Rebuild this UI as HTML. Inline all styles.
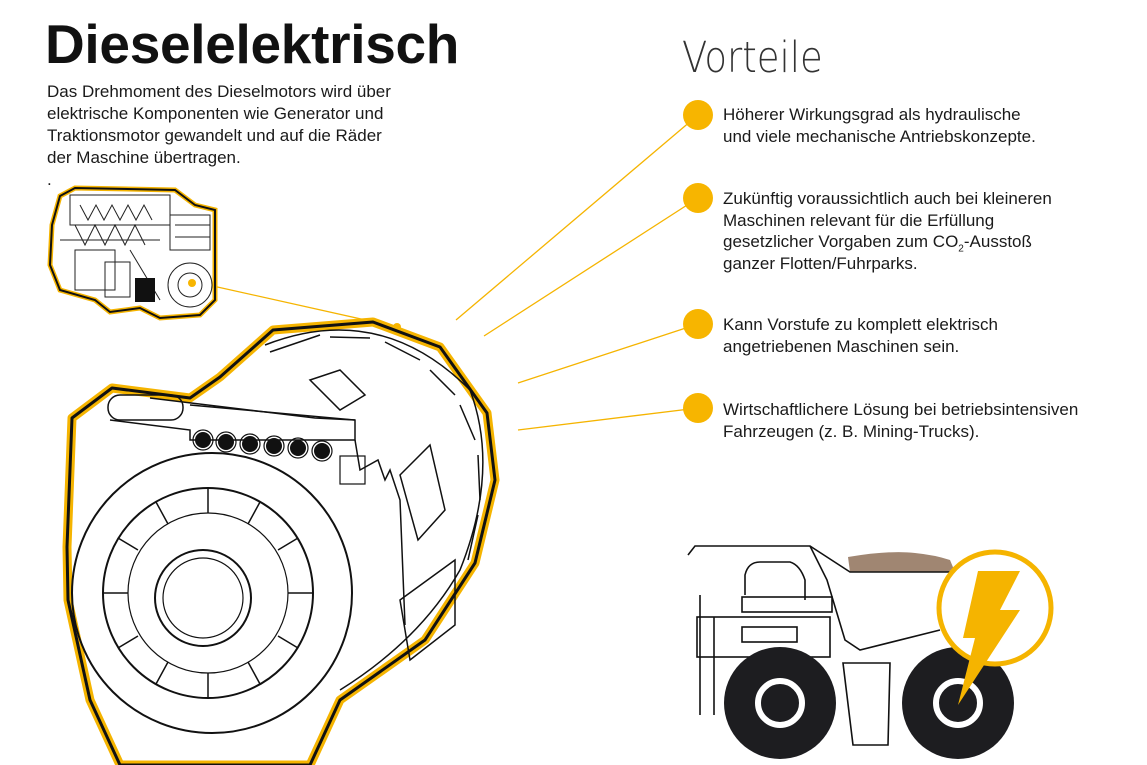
<!DOCTYPE html>
<html><head><meta charset="utf-8"><style>
body{margin:0;width:1147px;height:765px;background:#fff;position:relative;overflow:hidden;font-family:"Liberation Sans",sans-serif;color:#1a1a1a}
h1{position:absolute;left:45px;top:12px;margin:0;font-size:55px;font-weight:bold;letter-spacing:-0.3px;color:#111}
.p{position:absolute;left:47px;top:81px;font-size:17px;line-height:22px}
.v{position:absolute;left:682px;top:33px;font-size:43px;color:#333;font-family:"DejaVu Sans","Liberation Sans",sans-serif;font-weight:200;transform:scaleX(0.86);transform-origin:left}
.b{position:absolute;left:723px;font-size:17px;line-height:21.5px}
sub{font-size:10px;line-height:0}
</style></head><body>
<svg width="1147" height="765" style="position:absolute;left:0;top:0">
<g stroke="#f5b400" stroke-width="1.3" fill="none">
<line x1="698" y1="115" x2="456" y2="320"/>
<line x1="698" y1="198" x2="484" y2="336"/>
<line x1="698" y1="324" x2="518" y2="383"/>
<line x1="698" y1="408" x2="518" y2="430"/>
<line x1="195" y1="282" x2="397" y2="327"/>
</g>
<g fill="#f7b500">
<circle cx="698" cy="115" r="15"/><circle cx="698" cy="198" r="15"/><circle cx="698" cy="324" r="15"/><circle cx="698" cy="408" r="15"/>
<circle cx="397" cy="327" r="4"/>
</g>
<path d="M60,196 L75,188 L175,190 L195,205 L215,210 L215,300 L200,315 L160,318 L140,308 L110,312 L95,300 L60,290 L50,265 L52,225 Z" fill="#fff" stroke="#f5b400" stroke-width="5"/>
<path d="M60,196 L75,188 L175,190 L195,205 L215,210 L215,300 L200,315 L160,318 L140,308 L110,312 L95,300 L60,290 L50,265 L52,225 Z" fill="none" stroke="#111" stroke-width="2"/>
<g stroke="#222" stroke-width="1" fill="none">
<rect x="70" y="195" width="100" height="30"/><path d="M75,225 l10,20 l10,-20 l10,20 l10,-20 l10,20 l10,-20 l10,20"/>
<path d="M80,205 l8,15 l8,-15 l8,15 l8,-15 l8,15 l8,-15 l8,15 l8,-15 l8,15"/>
<rect x="75" y="250" width="40" height="40"/><rect x="105" y="262" width="25" height="35"/>
<rect x="170" y="215" width="40" height="35"/><circle cx="190" cy="285" r="22"/><circle cx="190" cy="285" r="12"/>
<line x1="60" y1="240" x2="160" y2="240"/><line x1="130" y1="250" x2="160" y2="300"/>
<line x1="175" y1="225" x2="210" y2="225"/><line x1="175" y1="237" x2="210" y2="237"/>
</g>
<rect x="135" y="278" width="20" height="24" fill="#111"/>
<circle cx="192" cy="283" r="4" fill="#f7b500"/>
<path d="M72,418 L112,388 L190,398 L220,377 L273,330 L373,322 L440,347 L487,413 L495,480 L475,563 L425,640 L340,700 L310,765 L120,765 L90,700 L68,600 L67,547 Z" fill="#fff" stroke="#f5b400" stroke-width="9" stroke-linejoin="round"/>
<path d="M72,418 L112,388 L190,398 L220,377 L273,330 L373,322 L440,347 L487,413 L495,480 L475,563 L425,640 L340,700 L310,765 L120,765 L90,700 L68,600 L67,547 Z" fill="none" stroke="#111" stroke-width="3" stroke-linejoin="round"/>
<g stroke="#111" stroke-width="1.5" fill="none">
<path d="M265,345 Q380,300 470,390 Q500,470 460,570 Q420,640 340,690"/>
<path d="M270,352 L320,335 M330,337 L370,338 M385,342 L420,360 M430,370 L455,395 M460,405 L475,440 M478,455 L480,500 M478,515 L468,560"/>
<path d="M110,420 L190,430 L190,440 L355,440 L355,420 L190,405"/>
<path d="M150,398 L315,418 L355,420"/>
<path d="M355,440 L360,470 L378,460 L385,480 L390,470 L400,500 L405,625"/>
<rect x="108" y="395" width="75" height="25" rx="12"/>
<path d="M310,380 L340,370 L365,395 L340,410 Z"/><path d="M400,475 L430,445 L445,510 L418,540 Z"/>
<path d="M400,600 L455,560 L455,625 L410,660 Z"/>
</g>
<g fill="#111">
<circle cx="203" cy="440" r="8"/><circle cx="226" cy="442" r="8"/><circle cx="250" cy="444" r="8"/><circle cx="274" cy="446" r="8"/><circle cx="298" cy="448" r="8"/><circle cx="322" cy="451" r="8"/>
</g>
<g stroke="#111" stroke-width="1.2" fill="none">
<circle cx="203" cy="440" r="10"/><circle cx="226" cy="442" r="10"/><circle cx="250" cy="444" r="10"/><circle cx="274" cy="446" r="10"/><circle cx="298" cy="448" r="10"/><circle cx="322" cy="451" r="10"/>
<rect x="340" y="456" width="25" height="28"/>
<circle cx="212" cy="593" r="140" stroke-width="2"/>
<circle cx="208" cy="593" r="105" stroke-width="2"/>
<circle cx="208" cy="593" r="80"/>
<circle cx="203" cy="598" r="48" stroke-width="2"/>
<circle cx="203" cy="598" r="40"/>
</g>
<g stroke="#111" stroke-width="1.5">
<line x1="208" y1="488" x2="208" y2="513"/><line x1="260" y1="502" x2="248" y2="524"/><line x1="298" y1="538" x2="278" y2="550"/><line x1="313" y1="593" x2="288" y2="593"/><line x1="298" y1="648" x2="278" y2="636"/><line x1="260" y1="684" x2="248" y2="662"/><line x1="208" y1="698" x2="208" y2="673"/><line x1="156" y1="684" x2="168" y2="662"/><line x1="118" y1="648" x2="138" y2="636"/><line x1="103" y1="593" x2="128" y2="593"/><line x1="118" y1="538" x2="138" y2="550"/><line x1="156" y1="502" x2="168" y2="524"/>
</g>
<path d="M848,557 Q890,550 915,553 Q935,555 950,560 L955,572 L850,572 Z" fill="#a08672"/>
<g stroke="#111" stroke-width="1.6" fill="none">
<path d="M688,555 L695,546 L810,546 L850,572 L950,572"/>
<path d="M810,546 L827,580 L845,640 L860,650 L940,630"/>
<path d="M745,595 L745,575 Q748,562 760,562 L790,562 Q800,565 805,580 L805,600"/>
<rect x="742" y="597" width="90" height="15"/>
<rect x="697" y="617" width="133" height="40"/>
<line x1="700" y1="595" x2="700" y2="715"/><line x1="714" y1="617" x2="714" y2="715"/>
<path d="M843,663 L890,663 L888,745 L853,745 Z"/>
<rect x="742" y="627" width="55" height="15"/>
</g>
<circle cx="780" cy="703" r="56" fill="#1d1d20"/>
<circle cx="780" cy="703" r="22" fill="#1d1d20" stroke="#fff" stroke-width="6"/>
<circle cx="958" cy="703" r="56" fill="#1d1d20"/>
<circle cx="958" cy="703" r="22" fill="#1d1d20" stroke="#fff" stroke-width="6"/>
<circle cx="995" cy="608" r="56" fill="#fff" stroke="#f5b400" stroke-width="5"/>
<path d="M978,571 L1020,571 L1000,610 L1020,610 L958,705 L975,638 L963,638 Z" fill="#f5b400"/>
</svg>
<h1>Dieselelektrisch</h1>
<div class="p">Das Drehmoment des Dieselmotors wird über<br>elektrische Komponenten wie Generator und<br>Traktionsmotor gewandelt und auf die Räder<br>der Maschine übertragen.<br>.</div>
<div class="v">Vorteile</div>
<div class="b" style="top:104px">Höherer Wirkungsgrad als hydraulische<br>und viele mechanische Antriebskonzepte.</div>
<div class="b" style="top:188px">Zukünftig voraussichtlich auch bei kleineren<br>Maschinen relevant für die Erfüllung<br>gesetzlicher Vorgaben zum CO<sub>2</sub>-Ausstoß<br>ganzer Flotten/Fuhrparks.</div>
<div class="b" style="top:314px">Kann Vorstufe zu komplett elektrisch<br>angetriebenen Maschinen sein.</div>
<div class="b" style="top:399px">Wirtschaftlichere Lösung bei betriebsintensiven<br>Fahrzeugen (z. B. Mining-Trucks).</div>
</body></html>
